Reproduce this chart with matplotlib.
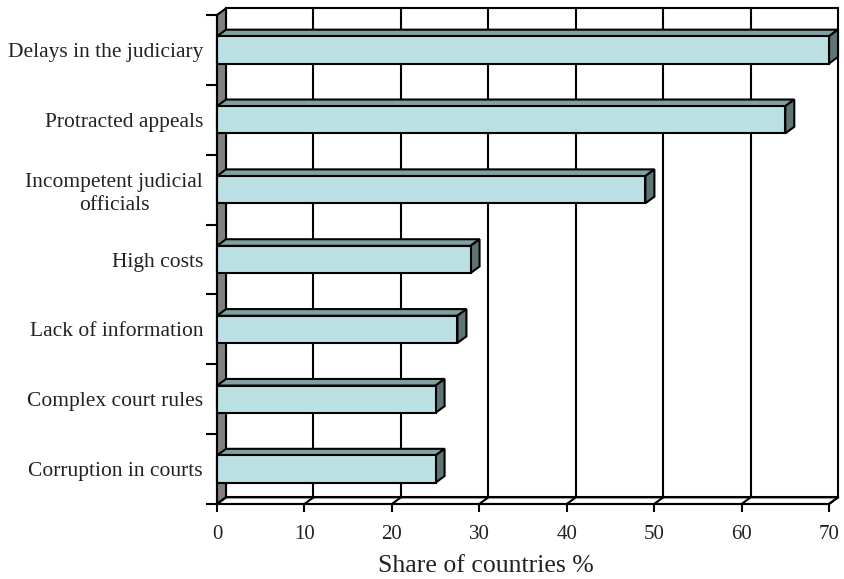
import matplotlib
matplotlib.use("Agg")
import matplotlib.pyplot as plt
from matplotlib.patches import Polygon, Rectangle

# Reasons given for poor access to courts (share of countries, %)
categories = [
    "Delays in the judiciary",
    "Protracted appeals",
    "Incompetent judicial\nofficials",
    "High costs",
    "Lack of information",
    "Complex court rules",
    "Corruption in courts",
]
shares = [70, 65, 49, 29, 27.5, 25, 25]
x_ticks = [0, 10, 20, 30, 40, 50, 60, 70]

plt.rcParams['font.family'] = ['Liberation Serif', 'DejaVu Serif']

FRONT = '#bbe0e3'
TOP = '#80a0a1'
END = '#5e7475'
WALL = '#808080'
LINE = 'black'
TEXT = '#222222'
LW = 1.5

# depth of the pseudo-3D box, in data units
DX = 1.03
DY = 0.095
XMAX = 70
BAR_H = 0.39

fig = plt.figure(figsize=(8.44, 5.79), dpi=100)
ax = fig.add_axes([217 / 844, 75 / 579, 612 / 844, 489 / 579])
ax.set_xlim(0, XMAX)
ax.set_ylim(len(categories) - 0.5, -0.5)
ax.patch.set_visible(False)

y_top, y_bot = -0.5, len(categories) - 0.5

# back wall with vertical gridlines
ax.add_patch(Rectangle((DX, y_top - DY), XMAX, y_bot - y_top, facecolor='white',
                       edgecolor=LINE, lw=LW, clip_on=False, zorder=1))
for xv in x_ticks[1:-1]:
    ax.plot([xv + DX, xv + DX], [y_top - DY, y_bot - DY], color=LINE, lw=LW,
            clip_on=False, zorder=2)

# grey left wall
ax.add_patch(Polygon([(0, y_top), (0, y_bot), (DX, y_bot - DY), (DX, y_top - DY)],
                     closed=True, facecolor=WALL, edgecolor=LINE, lw=LW,
                     clip_on=False, zorder=2))

# floor
ax.add_patch(Polygon([(0, y_bot), (XMAX, y_bot), (XMAX + DX, y_bot - DY), (DX, y_bot - DY)],
                     closed=True, facecolor='white', edgecolor=LINE, lw=LW,
                     clip_on=False, zorder=2))
for xv in x_ticks:
    ax.plot([xv, xv + DX], [y_bot, y_bot - DY], color=LINE, lw=LW,
            clip_on=False, zorder=2)

# 3D bars: front face, top face, end face
for i, v in enumerate(shares):
    t = i - BAR_H / 2
    b = i + BAR_H / 2
    ax.add_patch(Polygon([(0, t), (v, t), (v + DX, t - DY), (DX, t - DY)], closed=True,
                         facecolor=TOP, edgecolor=LINE, lw=LW, clip_on=False, zorder=4))
    ax.add_patch(Polygon([(v, t), (v, b), (v + DX, b - DY), (v + DX, t - DY)], closed=True,
                         facecolor=END, edgecolor=LINE, lw=LW, clip_on=False, zorder=4))
    ax.add_patch(Rectangle((0, t), v, BAR_H, facecolor=FRONT, edgecolor=LINE, lw=LW,
                           clip_on=False, zorder=5))

# axes lines and ticks
for side in ['top', 'right']:
    ax.spines[side].set_visible(False)
for side in ['left', 'bottom']:
    ax.spines[side].set_linewidth(LW)
    ax.spines[side].set_zorder(6)

ax.set_xticks(x_ticks)
ax.set_xticklabels([str(v) for v in x_ticks], fontsize=15, color=TEXT)
ax.tick_params(axis='x', length=6, width=LW, pad=9)

ax.set_yticks(range(len(categories)))
ax.set_yticklabels(categories, fontsize=15.5, color=TEXT, multialignment='center',
                   linespacing=1.3)
ax.tick_params(axis='y', which='major', length=0, pad=10)
ax.set_yticks([k - 0.5 for k in range(len(categories) + 1)], minor=True)
ax.tick_params(axis='y', which='minor', length=8, width=LW)

ax.set_xlabel('Share of countries %', fontsize=18.5, color=TEXT)
ax.xaxis.set_label_coords(0.439, -0.105)

fig.savefig('out.png', dpi=100)
